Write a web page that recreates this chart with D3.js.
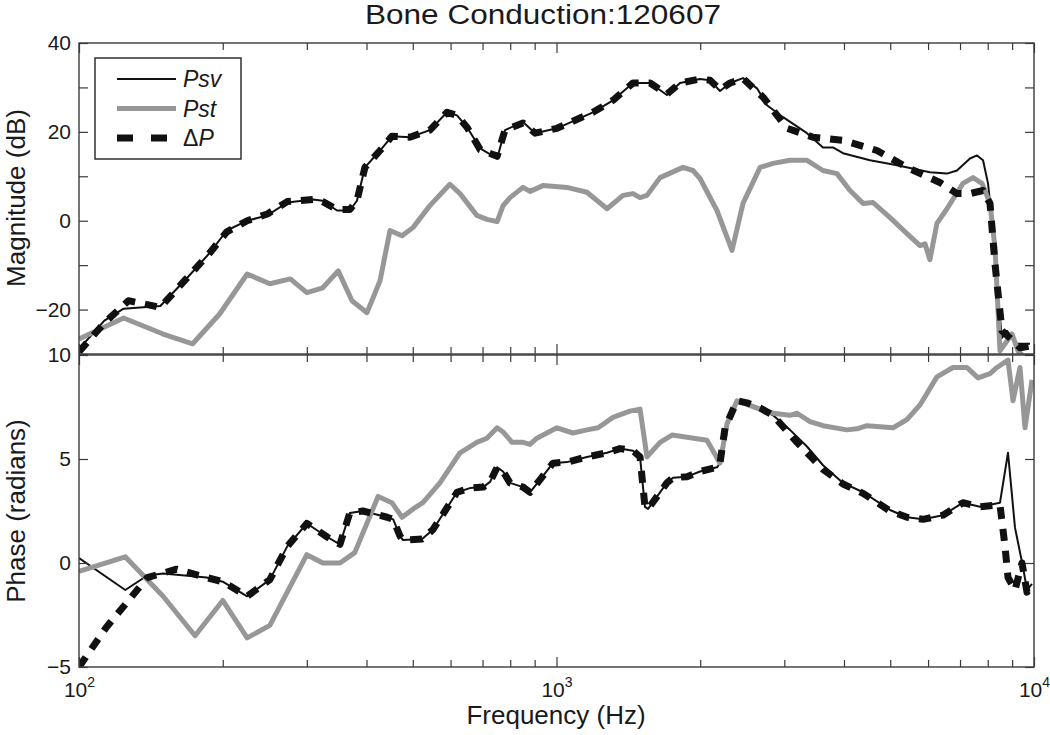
<!DOCTYPE html>
<html>
<head>
<meta charset="utf-8">
<script src="https://cdn.jsdelivr.net/npm/d3@7"></script>
<style>
  body { margin: 0; background: #fff; }
  svg text { font-family: "Liberation Sans", Arial, Helvetica, sans-serif; fill: #1a1a1a; }
</style>
</head>
<body>
<svg id="chart" width="1050" height="735"></svg>
<script>
// magnitude (dB) -- Psv
var svMagF = [100,113,124,148,168,188,204,225,248,273,309,324,347,369,382,397,427,452,493,543,590,619,650,692,751,780,851,902,1002,1192,1313,1446,1570,1703,1814,1998,2097,2200,2309,2458,2630,2760,2982,3346,3615,3793,3981,4535,5166,6053,6573,6897,7345,7597,7821,8011,8206,8406,8570,8780,9213,9808];
var svMag  = [-28.9,-22.5,-19.8,-19.2,-13,-7.2,-2.2,0,1.2,4.1,4.8,4.5,2.3,2.3,4.5,12,15.8,19,18.8,20.4,24.4,23.7,21,16.3,14,20.4,22.2,19.7,20.8,24.4,27.1,31,31,28.3,31,31.9,31.6,29.2,31,32.1,29.8,26,23.3,19.7,16.5,16.5,15.2,13.6,12.5,10.9,10.6,11.3,14,14.7,13.6,8.4,-2.2,-17.4,-26.4,-24.8,-27.7,-27.7];
// magnitude -- Pst
var stMagF = [100,124,150,173,197,225,251,277,300,324,349,373,401,427,448,475,501,543,598,628,681,715,751,773,799,851,880,937,1052,1158,1276,1378,1446,1496,1547,1648,1841,1931,1998,2168,2331,2458,2669,2841,3083,3346,3615,3867,4118,4385,4601,4994,5420,5771,5912,6053,6262,6573,7100,7452,7783,8088,8285,8487,8994,9257,9600];
var stMag  = [-26.6,-21.9,-25.5,-27.7,-21,-12,-14.2,-13.1,-16.2,-15.1,-11.3,-18,-20.7,-13.5,-2.2,-3.4,-1.5,3.4,8.2,6.1,1.2,0.3,-0.2,3.4,5.2,7.5,6.6,7.9,7.5,6.4,2.7,5.7,6.1,5.2,5.7,9.7,12,11.3,9.5,2.3,-6.7,3.9,12,12.9,13.6,13.6,11.3,10.6,6.8,3.9,4.1,0.7,-2.9,-5.6,-5.2,-8.8,-0.6,2.7,8.4,9.7,8.4,3.9,-6.1,-29.3,-25.5,-29.3,-31];
// magnitude -- delta P
var dpMagF = [100,113,127,148,168,188,204,225,248,273,309,324,347,369,382,397,427,452,493,543,590,619,650,692,751,780,851,902,1002,1192,1313,1446,1570,1703,1814,1998,2097,2200,2309,2458,2708,3040,3445,3981,4691,5420,6354,6897,7345,7821,8088,8285,8570,8907,9347,9808];
var dpMag  = [-29.5,-23,-18,-19.5,-13,-7.2,-2.5,0,1.5,4.3,4.8,4.3,2.5,2.5,4.5,12,15.8,19,18.8,20.4,24.4,23.7,21,16,14.5,20.4,22,19.7,20.8,24.4,27.1,31,31,28.5,31,31.9,31.6,29.5,31,32,27.8,20.8,18.8,18.1,15.8,12,8.6,6.1,6.1,6.8,3.9,-9.7,-24.8,-26.4,-28.6,-28.2];

// phase (radians) -- Psv
var svPhF = [100,125,139,150,185,200,225,251,273,300,331,352,369,393,442,455,470,477,523,551,619,659,702,726,751,773,799,851,880,923,983,1052,1158,1276,1358,1446,1496,1532,1555,1703,1754,1877,1998,2168,2200,2254,2388,2506,2669,2841,3083,3346,3615,3981,4385,4994,5420,5855,6447,7100,7708,8487,8822,9124,9484,9668,9904];
var svPh  = [0.24,-1.3,-0.6,-0.5,-0.7,-0.9,-1.6,-0.8,0.8,1.9,1.25,0.9,2.4,2.5,2.2,2.1,1.3,1.1,1.15,1.6,3.4,3.6,3.65,3.9,4.6,4.4,3.85,3.65,3.4,4.0,4.8,4.85,5.1,5.3,5.5,5.4,5.1,2.7,2.6,3.85,4.1,4.15,4.4,4.6,4.8,6.5,7.8,7.7,7.45,7.1,6.4,5.6,4.7,3.85,3.4,2.55,2.2,2.1,2.3,2.9,2.7,2.9,5.3,1.7,-0.2,-1.3,-1];
// phase -- Pst
var stPhF = [100,125,150,175,200,225,251,300,324,352,378,423,452,475,501,525,570,628,681,715,751,773,807,851,880,910,1002,1083,1158,1222,1313,1425,1496,1547,1648,1745,1877,2066,2200,2276,2388,2630,2841,3083,3189,3395,3615,4059,4259,4470,5067,5420,5771,6262,6766,7239,7634,8088,8366,8822,9037,9347,9576,9904];
var stPh  = [-0.4,0.3,-1.6,-3.5,-1.8,-3.6,-3,0.4,0,0,0.5,3.2,2.9,2.2,2.6,2.9,3.85,5.3,5.8,6.0,6.5,6.3,5.8,5.8,5.7,6.0,6.5,6.25,6.4,6.5,7.0,7.3,7.4,5.1,5.8,6.15,6.05,5.9,4.8,6.7,7.8,7.45,7.2,7.1,7.2,6.8,6.6,6.4,6.45,6.6,6.5,6.9,7.6,8.95,9.4,9.4,8.9,9.1,9.4,9.75,7.8,9.4,6.5,8.8];
// phase -- delta P
var dpPhF = [100,114,126,139,160,185,200,225,251,273,300,331,352,369,393,442,455,470,477,523,551,619,659,702,726,751,773,799,851,880,923,983,1052,1158,1276,1358,1446,1496,1532,1555,1703,1754,1877,1998,2168,2200,2254,2388,2506,2669,2841,3189,3615,3981,4385,4994,5420,5855,6447,7100,7708,8487,8695,8822,9124,9438,9668,9904];
var dpPh  = [-5,-3.1,-1.9,-0.7,-0.3,-0.7,-0.9,-1.6,-0.8,0.8,1.9,1.25,0.9,2.4,2.5,2.2,2.1,1.3,1.1,1.15,1.6,3.4,3.6,3.65,3.9,4.6,4.4,3.85,3.65,3.4,4.0,4.8,4.85,5.1,5.3,5.5,5.4,5.1,2.7,2.6,3.85,4.1,4.15,4.4,4.6,4.8,6.5,7.8,7.7,7.45,7.1,5.8,4.5,3.8,3.35,2.5,2.2,2.1,2.3,2.9,2.7,2.8,0.8,-0.7,-1.3,0,-1.4,-1];

// ticks
var magTicks = [-30,-20,-10,0,10,20,30,40];
var magLabels = [-20,0,20,40];
var phTicks = [-5,0,5,10];
var phLabels = [-5,0,5,10];
var decades = [100,1000,10000];
var legendNames = ["Psv","Pst","\u0394P"];

var left = 79, right = 1034;
var svg = d3.select("#chart");

var x = d3.scaleLog().domain([100,10000]).range([left,right]);
var yMag = d3.scaleLinear().domain([-30,40]).range([354,43]);
var yPh = d3.scaleLinear().domain([-5,10]).range([667,355]);

var xTicks = [];
[100,1000].forEach(function(d) { for (var k = 1; k < 10; k++) xTicks.push(d*k); });
xTicks.push(10000);

var styles = {
  sv: {stroke: "#111", width: 2, dash: null},
  st: {stroke: "#979797", width: 5, dash: null},
  dp: {stroke: "#111", width: 7, dash: "12,10"}
};

function fmt(v) { return v < 0 ? "\u2212" + Math.abs(v) : "" + v; }

function panel(id, y, ticks, labels, series) {
  var top = y.range()[1], bot = y.range()[0];
  var g = svg.append("g");

  svg.append("clipPath").attr("id", id)
    .append("rect").attr("x", left).attr("y", top)
    .attr("width", right - left).attr("height", bot - top);

  var line = d3.line()
    .x(function(d) { return x(d[0]); })
    .y(function(d) { return y(d[1]); });

  var lines = g.append("g").attr("clip-path", "url(#" + id + ")");
  series.forEach(function(s) {
    var st = styles[s.key];
    lines.append("path")
      .datum(d3.zip(s.f, s.v))
      .attr("d", line)
      .attr("fill", "none")
      .attr("stroke", st.stroke)
      .attr("stroke-width", st.width)
      .attr("stroke-linejoin", "round")
      .attr("stroke-dasharray", st.dash);
  });

  // x ticks, inward, top and bottom
  var axB = g.append("g").attr("transform", "translate(0," + bot + ")")
    .call(d3.axisBottom(x).tickValues(xTicks).tickSize(-7).tickFormat(""));
  var axT = g.append("g").attr("transform", "translate(0," + top + ")")
    .call(d3.axisTop(x).tickValues(xTicks).tickSize(-7).tickFormat(""));
  [axB, axT].forEach(function(a) {
    a.selectAll(".tick line").filter(function(d) { return decades.indexOf(d) >= 0; })
      .attr("y2", a === axB ? -10 : 10);
  });

  // y ticks
  var axL = g.append("g").attr("transform", "translate(" + left + ",0)")
    .call(d3.axisLeft(y).tickValues(ticks).tickSize(-9).tickPadding(8)
      .tickFormat(function(d) { return labels.indexOf(d) >= 0 ? fmt(d) : ""; }));
  var axR = g.append("g").attr("transform", "translate(" + right + ",0)")
    .call(d3.axisRight(y).tickValues(ticks).tickSize(-9).tickFormat(""));

  g.selectAll(".domain").remove();
  g.selectAll(".tick line").attr("stroke", "#3a3a3a").attr("stroke-width", 1.2);
  axL.selectAll("text").attr("font-size", 21).attr("fill", "#1a1a1a")
    .style("font-family", "'Liberation Sans', Arial, sans-serif");

  g.append("rect").attr("x", left).attr("y", top)
    .attr("width", right - left).attr("height", bot - top)
    .attr("fill", "none").attr("stroke", "#3a3a3a").attr("stroke-width", 1.4);
  return g;
}

panel("clipMag", yMag, magTicks, magLabels, [
  {key: "sv", f: svMagF, v: svMag},
  {key: "st", f: stMagF, v: stMag},
  {key: "dp", f: dpMagF, v: dpMag}
]);
panel("clipPh", yPh, phTicks, phLabels, [
  {key: "sv", f: svPhF, v: svPh},
  {key: "st", f: stPhF, v: stPh},
  {key: "dp", f: dpPhF, v: dpPh}
]);

// decade labels below the bottom panel
var xl = svg.append("g").attr("transform", "translate(0,667)")
  .call(d3.axisBottom(x).tickValues(decades).tickSize(0).tickPadding(15).tickFormat(""));
xl.select(".domain").remove();
xl.selectAll(".tick").each(function(d) {
  var t = d3.select(this).select("text")
    .attr("font-size", 21).attr("fill", "#1a1a1a")
    .style("font-family", "'Liberation Sans', Arial, sans-serif");
  t.append("tspan").text("10");
  t.append("tspan").attr("font-size", 14).attr("dy", -10).text(Math.round(Math.log10(d)));
});

// titles
svg.append("text").attr("x", 543).attr("y", 24).attr("text-anchor", "middle")
  .attr("font-size", 27).attr("textLength", 356).attr("lengthAdjust", "spacingAndGlyphs")
  .text("Bone Conduction:120607");
svg.append("text").attr("x", 556).attr("y", 724).attr("text-anchor", "middle")
  .attr("font-size", 26).text("Frequency (Hz)");
svg.append("text").attr("transform", "translate(25,198) rotate(-90)").attr("text-anchor", "middle")
  .attr("font-size", 26).text("Magnitude (dB)");
svg.append("text").attr("transform", "translate(25,511) rotate(-90)").attr("text-anchor", "middle")
  .attr("font-size", 26).text("Phase (radians)");

// legend
var lg = svg.append("g");
lg.append("rect").attr("x", 95).attr("y", 58).attr("width", 146).attr("height", 101)
  .attr("fill", "#fff").attr("stroke", "#222").attr("stroke-width", 1.4);
var keys = ["sv","st","dp"];
keys.forEach(function(k, i) {
  var st = styles[k], yy = 79 + i * 29.5;
  lg.append("line").attr("x1", 117).attr("x2", 176).attr("y1", yy).attr("y2", yy)
    .attr("stroke", st.stroke).attr("stroke-width", st.width)
    .attr("stroke-dasharray", k === "dp" ? "16,18" : null);
  var t = lg.append("text").attr("x", 183).attr("y", yy + 8).attr("font-size", 23);
  if (k === "dp") {
    t.append("tspan").text("\u0394");
    t.append("tspan").attr("font-style", "italic").text("P");
  } else {
    t.attr("font-style", "italic").text(legendNames[i]);
  }
});
</script>
</body>
</html>
